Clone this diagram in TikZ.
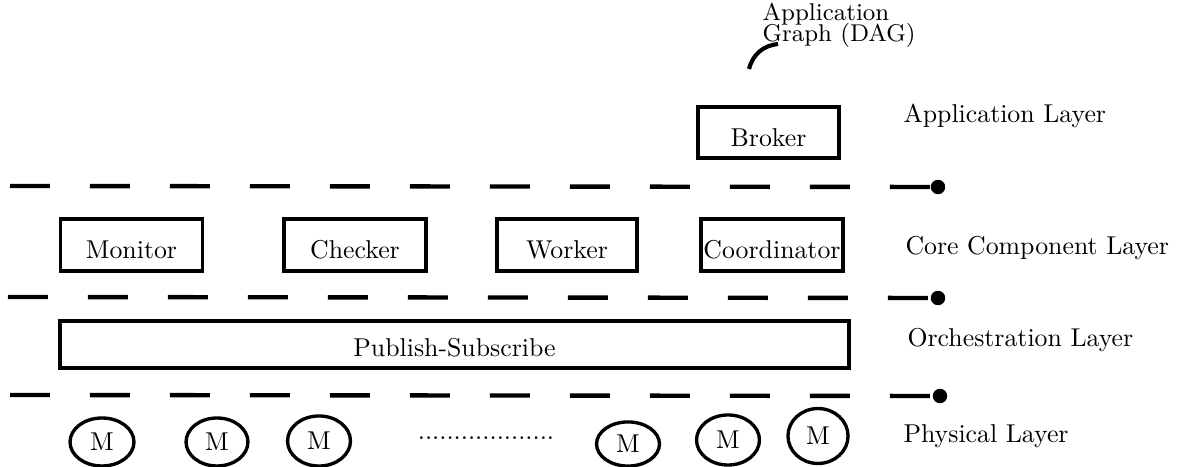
\documentclass[tikz,border=0pt]{standalone}
\usetikzlibrary{shapes.geometric}
\begin{document}
\begin{tikzpicture}[x=0.3876pt,y=-0.3876pt,
  compbox/.style={draw,line width=1.5pt,minimum width=55pt,minimum height=20.3pt,inner sep=0pt,text height=10.5pt,text depth=0pt,font=\fontsize{10}{12}\selectfont},
  machine/.style={draw,ellipse,line width=1.3pt,inner sep=0pt,font=\fontsize{10}{12}\selectfont},
  layerline/.style={line width=1.7pt,dash pattern=on 15.5pt off 15.5pt},
  layerdot/.style={circle,fill=black,inner sep=0pt,minimum size=5.6pt},
  layerlabel/.style={anchor=base west,inner sep=0pt,font=\fontsize{10}{12}\selectfont}]
\useasboundingbox (0,0) rectangle (1183,467);

% Application graph label and arc
\node[anchor=north west,inner sep=0pt,align=left,font=\fontsize{9.4}{11}\selectfont] (dag) at (762,3) {Application\\[-3pt]Graph (DAG)};
\coordinate (arcA) at (749,69);
\coordinate (arcB) at (778,44);
\draw[line width=1.6pt] (arcA) to[bend left=35] (arcB);

% Application layer
\node[compbox,minimum width=54.7pt,minimum height=19.8pt] (broker) at (768.5,132.5) {Broker};

% layer lines
\coordinate (l1s) at (10,186);
\node[layerdot] (d1) at (938,187) {};
\draw[layerline] (l1s) -- (d1.center);
\coordinate (l2s) at (8,297);
\node[layerdot] (d2) at (938,298) {};
\draw[layerline] (l2s) -- (d2.center);
\coordinate (l3s) at (10,395);
\node[layerdot] (d3) at (940,396) {};
\draw[layerline] (l3s) -- (d3.center);

% Core component layer
\node[compbox] (monitor) at (131.5,245) {Monitor};
\node[compbox] (checker) at (355,245) {Checker};
\node[compbox,minimum width=54.3pt] (worker) at (567,245) {Worker};
\node[compbox] (coord) at (772,245) {Coordinator};

% Orchestration layer
\node[compbox,minimum width=305.8pt,minimum height=18.2pt,text height=9.6pt] (pubsub) at (454.5,344.5) {Publish-Subscribe};

% Physical layer
\node[machine,minimum width=24.8pt,minimum height=18.6pt] (m1) at (102,442) {M};
\node[machine,minimum width=24pt,minimum height=18.6pt] (m2) at (217,442) {M};
\node[machine,minimum width=24.4pt,minimum height=19.4pt] (m3) at (319,441) {M};
\node[inner sep=0pt,font=\fontsize{10}{12}\selectfont] (dots) at (486,438) {...................};
\node[machine,minimum width=24.4pt,minimum height=17.1pt] (m4) at (628,444) {M};
\node[machine,minimum width=24.4pt,minimum height=19.4pt] (m5) at (728,440) {M};
\node[machine,minimum width=23.3pt,minimum height=21.3pt] (m6) at (818,436) {M};

% Layer labels
\node[layerlabel] (lapp) at (903,123) {Application Layer};
\node[layerlabel] (lcore) at (905,255) {Core Component Layer};
\node[layerlabel] (lorch) at (907,347) {Orchestration Layer};
\node[layerlabel] (lphys) at (903,443) {Physical Layer};
\end{tikzpicture}
\end{document}
